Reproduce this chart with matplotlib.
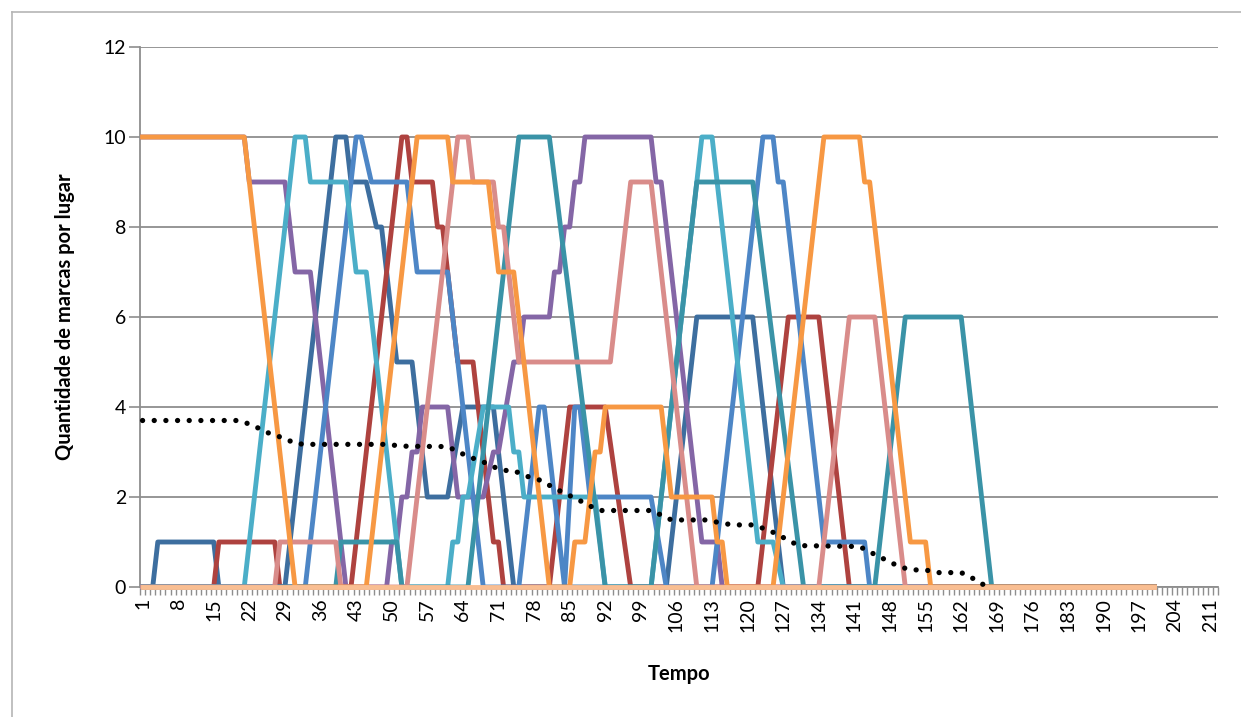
import matplotlib.pyplot as plt
from matplotlib.lines import Line2D

plt.rcParams['font.family'] = ['Lato', 'DejaVu Sans']

# categories on the x axis (Tempo), labelled every 7 steps
n_cat = 212
tick_pos = list(range(1, 212, 7))

# each place: time steps where the line changes slope, and token counts there
t_dblue = [1, 3, 4, 15, 16, 29, 39, 41, 42, 45, 47, 48, 51, 54, 57, 61, 64, 70, 74, 104, 110, 121, 127, 200]
v_dblue = [0, 0, 1, 1, 0, 0, 10, 10, 9, 9, 8, 8, 5, 5, 2, 2, 4, 4, 0, 0, 6, 6, 0, 0]

t_red = [1, 15, 16, 27, 28, 42, 52, 53, 54, 58, 59, 60, 63, 66, 70, 71, 72, 81, 85, 92, 97, 122, 128, 134, 140, 200]
v_red = [0, 0, 1, 1, 0, 0, 10, 10, 9, 9, 8, 8, 5, 5, 1, 1, 0, 0, 4, 4, 0, 0, 6, 6, 0, 0]

t_purple = [1, 21, 22, 29, 31, 34, 41, 49, 50, 51, 52, 53, 54, 55, 56, 61, 63, 68, 70, 71, 74, 75, 76,
            81, 82, 83, 84, 85, 86, 87, 88, 101, 102, 103, 111, 114, 115, 200]
v_purple = [10, 10, 9, 9, 7, 7, 0, 0, 1, 1, 2, 2, 3, 3, 4, 4, 2, 2, 3, 3, 5, 5, 6,
            6, 7, 7, 8, 8, 9, 9, 10, 10, 9, 9, 1, 1, 0, 0]

t_mblue = [1, 33, 43, 44, 46, 53, 55, 61, 68, 75, 79, 80, 84, 86, 87, 89, 90, 101, 104, 113, 123, 125, 126, 127, 135, 143, 144, 200]
v_mblue = [0, 0, 10, 10, 9, 9, 7, 7, 0, 0, 4, 4, 0, 4, 4, 2, 2, 2, 0, 0, 10, 10, 9, 9, 1, 1, 0, 0]

t_cyan = [1, 21, 31, 33, 34, 41, 43, 45, 52, 61, 62, 63, 64, 65, 68, 73, 74, 75, 76, 90, 91, 92,
          101, 111, 113, 122, 125, 127, 200]
v_cyan = [0, 0, 10, 10, 9, 9, 7, 7, 0, 0, 1, 1, 2, 2, 4, 4, 3, 3, 2, 2, 1, 0,
          0, 10, 10, 1, 1, 0, 0]

t_teal = [1, 39, 40, 51, 52, 65, 75, 81, 92, 101, 110, 121, 131, 145, 151, 162, 168, 200]
v_teal = [0, 0, 1, 1, 0, 0, 10, 10, 0, 0, 9, 9, 0, 0, 6, 6, 0, 0]

t_pink = [1, 27, 28, 39, 40, 53, 63, 65, 66, 70, 71, 72, 75, 93, 97, 101, 110, 134, 140, 145, 151, 200]
v_pink = [0, 0, 1, 1, 0, 0, 10, 10, 9, 9, 8, 8, 5, 5, 9, 9, 0, 0, 6, 6, 0, 0]

t_orange = [1, 21, 31, 45, 55, 61, 62, 69, 71, 74, 81, 85, 86, 88, 90, 91, 92, 103, 104, 105,
            113, 114, 115, 116, 125, 135, 142, 143, 144, 152, 155, 156, 200]
v_orange = [10, 10, 0, 0, 10, 10, 9, 9, 7, 7, 0, 0, 1, 1, 3, 3, 4, 4, 3, 2,
            2, 1, 1, 0, 0, 10, 10, 9, 9, 1, 1, 0, 0]

t_idle = [1, 200]
v_idle = [0, 0]

# mean tokens per place (dotted)
t_mean = [1, 20, 22, 24, 26, 29, 31, 33, 49, 52, 61, 63, 65, 68, 70, 72, 74, 76, 79, 81, 83, 85, 87, 89,
          91, 101, 103, 105, 112, 114, 117, 121, 124, 126, 128, 130, 142, 144, 146, 148, 150, 152, 155,
          157, 162, 164, 166, 167]
v_mean = [3.70, 3.70, 3.62, 3.52, 3.41, 3.30, 3.19, 3.17, 3.17, 3.13, 3.12, 3.01, 2.90, 2.78, 2.67, 2.59,
          2.59, 2.48, 2.38, 2.26, 2.14, 2.03, 1.92, 1.80, 1.70, 1.70, 1.60, 1.49, 1.49, 1.44, 1.38, 1.38,
          1.27, 1.16, 1.04, 0.92, 0.90, 0.78, 0.67, 0.55, 0.45, 0.38, 0.38, 0.32, 0.32, 0.21, 0.08, 0.0]

series = [
    (t_dblue, v_dblue, '#3D6E9F'),
    (t_red, v_red, '#AE423F'),
    (t_purple, v_purple, '#8466A6'),
    (t_mblue, v_mblue, '#4D86C6'),
    (t_cyan, v_cyan, '#4BAEC8'),
    (t_teal, v_teal, '#3A93A7'),
    (t_pink, v_pink, '#D98C8A'),
    (t_orange, v_orange, '#F79843'),
    (t_idle, v_idle, '#F9BE92'),
]

fig = plt.figure(figsize=(12.41, 7.17), dpi=100)
ax = fig.add_axes([140 / 1241, 1 - 587 / 717, (1218 - 140) / 1241, (587 - 47) / 717])

for t, v, c in series:
    ax.plot(t, v, color=c, lw=3.5, solid_joinstyle='round', clip_on=False, zorder=3)

ax.plot(t_mean, v_mean, color='black', lw=3.8, linestyle=(0, (0.01, 2.2)),
        dash_capstyle='round', clip_on=False, zorder=4)

ax.set_xlim(0.5, n_cat + 0.5)
ax.set_ylim(0, 12)
ax.set_yticks(range(0, 13, 2))
ax.yaxis.grid(True, color='#8e8e8e', lw=1.3)
ax.set_axisbelow(True)

for side in ['top', 'right']:
    ax.spines[side].set_visible(False)
for side in ['left', 'bottom']:
    ax.spines[side].set_color('#8e8e8e')
    ax.spines[side].set_linewidth(1.3)

ax.set_xticks(tick_pos)
ax.set_xticklabels([str(p) for p in tick_pos], rotation=90)
ax.set_xticks([k + 0.5 for k in range(n_cat + 1)], minor=True)
ax.tick_params(axis='x', which='major', length=0, pad=8, labelsize=14)
ax.tick_params(axis='x', which='minor', length=6, width=1, color='#8e8e8e')
ax.tick_params(axis='y', length=8, width=1.2, color='#8e8e8e', labelsize=14, pad=2)

fig.text(679 / 1241, 1 - 674 / 717, 'Tempo', ha='center', va='center', fontsize=14.5, fontweight='bold')
fig.text(65 / 1241, 1 - 317 / 717, 'Quantidade de marcas por lugar', ha='center', va='center',
         rotation=90, fontsize=14.5, fontweight='bold')

# outer chart border
fig.add_artist(Line2D([12 / 1241, 1], [1 - 12 / 717, 1 - 12 / 717], color='#b5b5b5', lw=1.2))
fig.add_artist(Line2D([12 / 1241, 12 / 1241], [1 - 12 / 717, 0], color='#b5b5b5', lw=1.2))

fig.savefig('out.png', dpi=100)
